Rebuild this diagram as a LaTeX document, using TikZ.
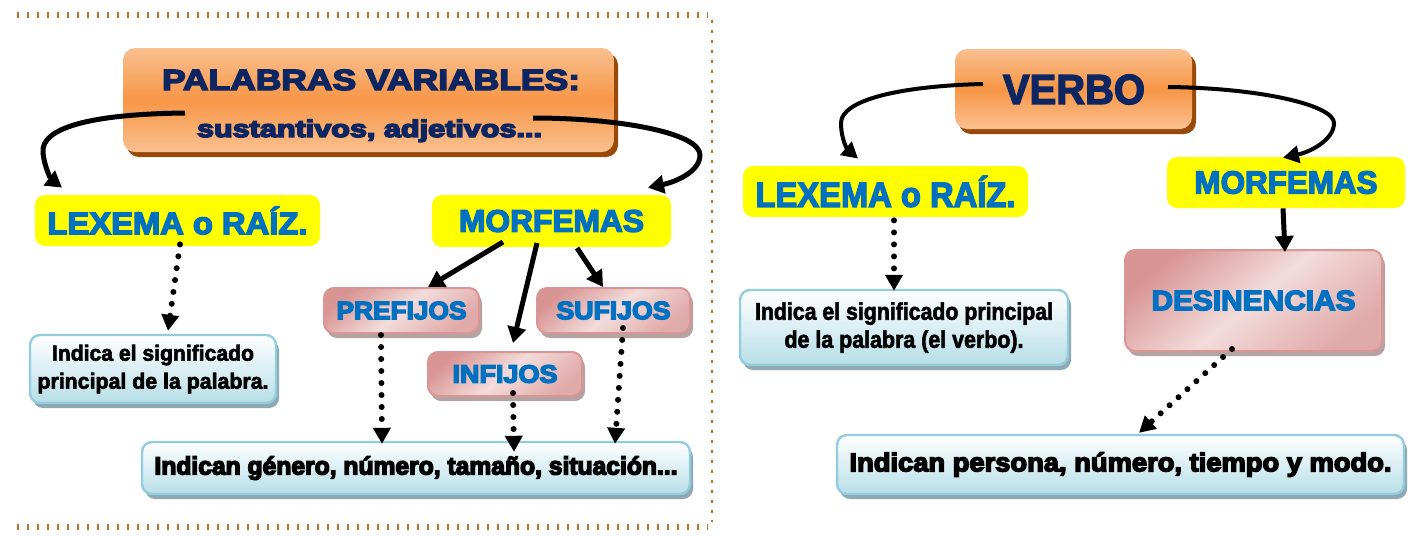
\documentclass[tikz,border=0pt]{standalone}
\usepackage{fontspec}
\usepackage{graphicx}
\setmainfont{Liberation Sans}
\newfontfamily\hv{Liberation Sans Bold}
\usetikzlibrary{arrows.meta,shadows,calc}
\definecolor{navy}{HTML}{0D2561}
\definecolor{tblue}{HTML}{0070C0}
\definecolor{orL}{HTML}{FAC090}
\definecolor{orM}{HTML}{F79646}
\definecolor{orS}{HTML}{984807}
\definecolor{yel}{HTML}{FFFF00}
\definecolor{pinkB}{HTML}{D99694}
\definecolor{pinkL}{HTML}{F2DCDB}
\definecolor{pinkD}{HTML}{D99594}
\definecolor{pinkS}{HTML}{B3A3A3}
\definecolor{bluB}{HTML}{93CDDD}
\definecolor{bluL}{HTML}{B7DEE8}
\definecolor{bluS}{HTML}{8EA9B3}
\definecolor{brn}{HTML}{C0702A}
% heavy text: fill + stroke
\newcommand\fw[3]{\resizebox{#1}{\height}{\fontsize{#2}{#2}\selectfont\hv\special{pdf:literal direct 2 Tr 0.7 w}#3\special{pdf:literal direct 0 Tr}}}
\newcommand\fl[3]{\resizebox{#1}{\height}{\fontsize{#2}{#2}\selectfont\hv\special{pdf:literal direct 2 Tr 0.3 w}#3\special{pdf:literal direct 0 Tr}}}
\begin{document}
\begin{tikzpicture}[x=0.5pt,y=-0.5pt,
  orbox/.style={rounded corners=6pt, top color=orL, bottom color=orL, middle color=orM,
    general shadow={fill=orS, shadow xshift=2pt, shadow yshift=-2.5pt}, inner sep=0pt},
  yelbox/.style={rounded corners=5pt, fill=yel, inner sep=0pt, text=tblue},
  pinkbox/.style={rounded corners=5pt, draw=pinkB, line width=1pt, top color=pinkD, bottom color=pinkD!70!pinkL, middle color=pinkL, shading angle=40,
    general shadow={fill=pinkS, shadow xshift=1.5pt, shadow yshift=-2.5pt}, inner sep=0pt, text=tblue},
  blubox/.style={rounded corners=5pt, draw=bluB, line width=1.2pt, top color=white, bottom color=bluL,
    general shadow={fill=bluS, shadow xshift=1.5pt, shadow yshift=-2.5pt}, inner sep=0pt, text=black, align=center},
  curvearrow/.style={line width=2.5pt, -{Triangle[width=9pt,length=8pt]}},
  curvearrowR/.style={line width=2pt, -{Triangle[width=8.5pt,length=8pt]}},
  solidarrow/.style={line width=2.5pt, -{Triangle[width=9pt,length=8pt]}},
  dotarrow/.style={line width=3pt, line cap=round, dash pattern=on 0pt off 6pt, -{Triangle[width=8.5pt,length=8pt]}},
  bordertb/.style={brn, line width=3pt, dash pattern=on 0.8pt off 4.2pt},
  borderr/.style={brn, line width=1.3pt, dash pattern=on 1.5pt off 3.5pt}
]
\useasboundingbox (0,0) rectangle (1413,537);

% border of the left panel
\draw[bordertb] (17,15) -- (708,15);
\draw[bordertb] (17,527) -- (708,527);
\draw[borderr] (712,20) -- (712,522);

% ---------- left panel ----------
\node[orbox, minimum width=245.5pt, minimum height=52pt] (pv) at (368.5,100) {};
\node[anchor=base, text=navy, inner sep=0pt] (pvt1) at (371,90) {\fw{209pt}{14.6}{PALABRAS VARIABLES:}};
\node[anchor=base, text=navy, inner sep=0pt] (pvt2) at (369.5,137) {\fw{172.5pt}{12}{sustantivos, adjetivos...}};

\node[yelbox, minimum width=142.5pt, minimum height=25.5pt] (lexL) at (177.5,220.5) {\fw{130pt}{15.6}{LEXEMA o RAÍZ.}};
\node[yelbox, minimum width=119.5pt, minimum height=26pt] (morL) at (551.5,221) {\fw{92.5pt}{15.6}{MORFEMAS}};

\node[blubox, minimum width=123pt, minimum height=34pt, font=\fontsize{10.5}{14}\selectfont] (indL) at (153,369)
  {\fl{101pt}{11}{Indica el significado}\\\fl{115.5pt}{11}{principal de la palabra.}};

\node[pinkbox, minimum width=77.5pt, minimum height=22.5pt] (pre) at (401.5,310.5) {\fw{65pt}{12.5}{PREFIJOS}};
\node[pinkbox, minimum width=76.5pt, minimum height=22.5pt] (suf) at (613.5,310.5) {\fw{57pt}{12.5}{SUFIJOS}};
\node[pinkbox, minimum width=77pt, minimum height=22pt] (inf) at (505,374) {\fw{52.5pt}{12.5}{INFIJOS}};

\node[blubox, minimum width=274pt, minimum height=26pt] (ind2) at (416,468)
  {\fw{261.5pt}{12.5}{Indican género, número, tamaño, situación...}};

% curved arrows from PALABRAS VARIABLES
\draw[curvearrow] ($(pv.center)+(-183.5,13)$) .. controls (90,114) and (40,128) .. (43,153)
  .. controls (45,170) and (52,180) .. ($(lexL.north)+(-115.5,-7)$);
\draw[curvearrow] ($(pv.center)+(164.5,18)$) .. controls (620,118) and (700,133) .. (700,155)
  .. controls (700,172) and (675,182) .. ($(morL.north)+(96.5,-7)$);

% arrows from MORFEMAS
\draw[solidarrow] ($(morL.center)+(-48.5,21)$) -- ($(pre.north)+(26.5,0)$);
\draw[solidarrow] ($(morL.center)+(-14.5,22)$) -- ($(inf.north)+(8,-8)$);
\draw[solidarrow] ($(morL.center)+(25.5,27)$) -- ($(suf.north)+(-10.5,0)$);

% dotted arrows
\draw[dotarrow] ($(lexL.south)+(2.5,-2)$) -- ($(indL.north)+(15,-3)$);
\draw[dotarrow] ($(pre.south)+(-20.5,1)$) -- ($(ind2.north)+(-34,3)$);
\draw[dotarrow] ($(inf.south)+(8,-4)$) -- ($(ind2.north)+(98,11)$);
\draw[dotarrow] ($(suf.south)+(9.5,-6)$) -- ($(ind2.north)+(199,3)$);

% ---------- right panel ----------
\node[orbox, minimum width=118.5pt, minimum height=40pt] (verbo) at (1073.5,89) {};
\node[anchor=base, text=navy, inner sep=0pt] (verbot) at (1074,104) {\fw{71pt}{21}{VERBO}};

\node[yelbox, minimum width=142.5pt, minimum height=25.5pt] (lexR) at (885.5,191.5) {\fw{130pt}{17.5}{LEXEMA o RAÍZ.}};
\node[yelbox, minimum width=119pt, minimum height=25.5pt] (morR) at (1286,182.5) {\fw{91.5pt}{16}{MORFEMAS}};

\node[pinkbox, minimum width=128.5pt, minimum height=50.5pt] (des) at (1253.5,300.5) {\fw{102pt}{14}{DESINENCIAS}};

\node[blubox, minimum width=164pt, minimum height=37.5pt, font=\fontsize{10.5}{14}\selectfont] (indR) at (904,327.5)
  {\fl{149pt}{12}{Indica el significado principal}\\\fl{119.5pt}{12}{de la palabra (el verbo).}};

\node[blubox, minimum width=283.5pt, minimum height=29.5pt] (ind3) at (1120.5,464.5)
  {\fw{271pt}{13}{Indican persona, número, tiempo y modo.}};

\draw[curvearrowR] ($(verbo.center)+(-90.5,-5)$) .. controls (900,86) and (841,100) .. (841,123)
  .. controls (841,140) and (848,150) .. ($(lexR.north)+(-27.5,-7)$);
\draw[curvearrowR] ($(verbo.center)+(94.5,-2)$) .. controls (1260,88) and (1334,105) .. (1334,123)
  .. controls (1334,140) and (1310,152) .. ($(morR.north)+(-3,1)$);

\draw[solidarrow] ($(morR.south)+(-3,0)$) -- ($(des.north)+(31.5,3)$);

\draw[dotarrow] ($(lexR.south)+(8.5,3)$) -- ($(indR.north)+(-10,2)$);
\draw[dotarrow] ($(des.south)+(-21.5,-3)$) -- ($(ind3.north)+(18.5,-1)$);
\end{tikzpicture}
\end{document}
